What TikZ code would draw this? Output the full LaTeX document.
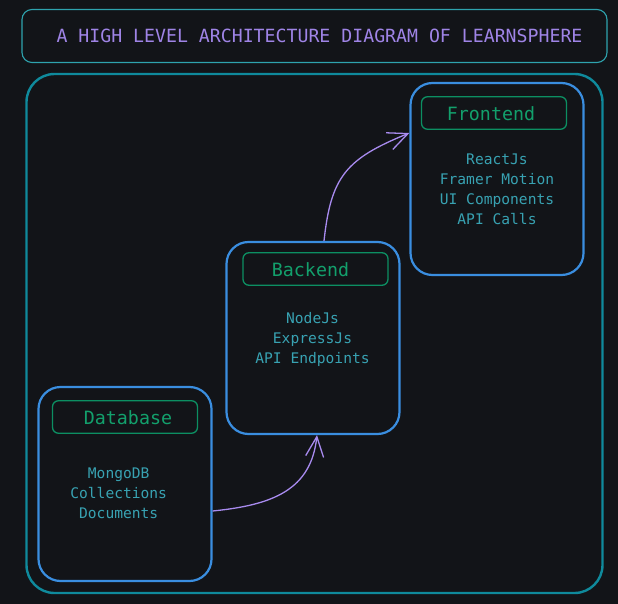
\documentclass[tikz,border=0pt]{standalone}
\usepackage{fontspec}
\setmonofont{DejaVu Sans Mono}
\usetikzlibrary{arrows.meta}
\definecolor{bg}{HTML}{121418}
\definecolor{titlecol}{HTML}{9F84E6}
\definecolor{titleborder}{HTML}{2EA3AE}
\definecolor{outercol}{HTML}{0F8A9C}
\definecolor{boxcol}{HTML}{3A8EE0}
\definecolor{headcol}{HTML}{0C8F62}
\definecolor{headtext}{HTML}{12A06C}
\definecolor{bodytext}{HTML}{38A2B2}
\definecolor{arrowcol}{HTML}{A88BEF}
\tikzset{
  titlebox/.style={draw=titleborder, line width=1.1pt, rounded corners=10pt,
    minimum width=585pt, minimum height=53pt, inner sep=0pt},
  titletext/.style={text=titlecol, font=\ttfamily\fontsize{18.2}{22}\selectfont},
  outerbox/.style={draw=outercol, line width=2.4pt, rounded corners=28pt,
    minimum width=576pt, minimum height=519pt, inner sep=0pt},
  layerbox/.style={draw=boxcol, line width=2.2pt, rounded corners=22pt,
    minimum width=173pt, minimum height=192pt, inner sep=0pt},
  headbox/.style={draw=headcol, line width=1.3pt, rounded corners=6pt,
    minimum width=145pt, minimum height=32.5pt, inner sep=0pt},
  headtxt/.style={text=headtext, font=\ttfamily\fontsize{18.3}{22}\selectfont},
  bodybox/.style={text=bodytext, align=center, inner sep=0pt,
    font=\ttfamily\fontsize{14.6}{20}\selectfont},
  flow/.style={draw=arrowcol, line width=1.3pt,
    -{Straight Barb[length=20pt,width=18pt,line width=1.3pt]}},
}
\begin{document}
\begin{tikzpicture}[x=1pt,y=-1pt]
\useasboundingbox (0,0) rectangle (618,604);
\fill[bg] (0,0) rectangle (618,604);

\node[titlebox] (titlebox) at (314.5,36) {};
\node[titletext] (title) at (319.5,36) {A HIGH LEVEL ARCHITECTURE DIAGRAM OF LEARNSPHERE};

\node[outerbox] (outer) at (314.5,333.5) {};

% Frontend
\node[layerbox] (fe) at (497,179) {};
\node[headbox] (feh) at (494,113) {};
\node[headtxt] (fet) at (491,114) {Frontend};
\node[bodybox] (feb) at (497,189) {ReactJs\\Framer Motion\\UI Components\\API Calls};

% Backend
\node[layerbox] (be) at (313,338) {};
\node[headbox] (beh) at (315.5,269) {};
\node[headtxt] (bet) at (310.5,270) {Backend};
\node[bodybox] (beb) at (312.5,339) {NodeJs\\ExpressJs\\API Endpoints};

% Database
\node[layerbox, minimum height=194pt] (db) at (125,484) {};
\node[headbox] (dbh) at (125,417) {};
\node[headtxt] (dbt) at (128,418) {Database};
\node[bodybox] (dbb) at (118.7,493) {MongoDB\\Collections\\Documents};

% Connectors
\draw[flow] ([yshift=-27pt]db.east) .. controls +(60,-6) and +(-6,55) .. ([xshift=4pt]be.south);
\draw[flow] ([xshift=11pt]be.north) .. controls +(7,-64) and +(-64,26) .. ([yshift=46pt]fe.west);
\end{tikzpicture}
\end{document}
